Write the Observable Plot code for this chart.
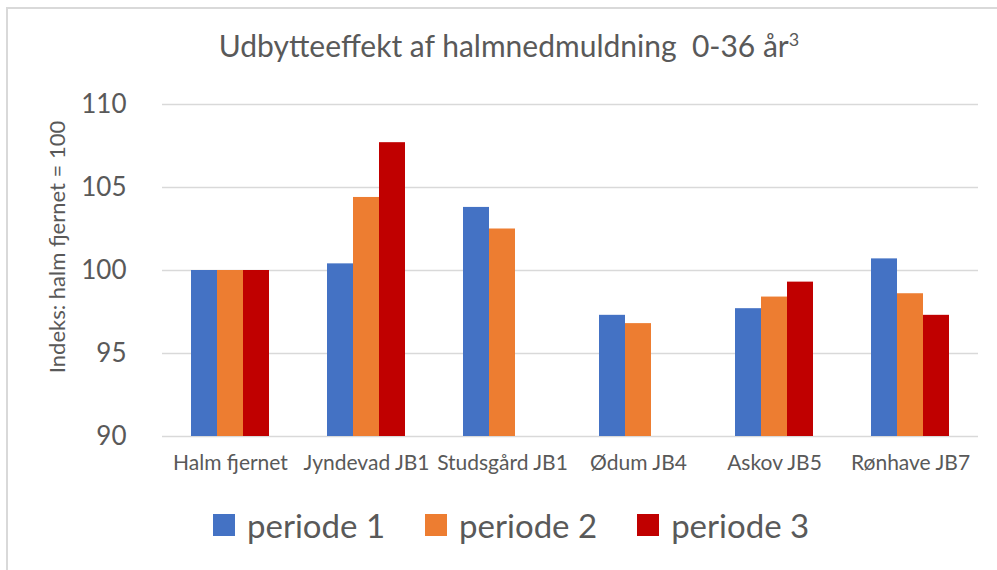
<!DOCTYPE html>
<html>
<head>
<meta charset="utf-8">
<script src="https://cdn.jsdelivr.net/npm/d3@7"></script>
<script src="https://cdn.jsdelivr.net/npm/@observablehq/plot@0.6"></script>
<style>
  html, body { margin: 0; padding: 0; background: #fff; }
  #wrap { position: relative; width: 997px; height: 570px; overflow: hidden; font-family: Lato, sans-serif; color: #595959; }
  #frame { position: absolute; left: 6px; top: 7px; width: 1100px; height: 700px; border: 2px solid #D9D9D9; box-sizing: border-box; }
  #title { position: absolute; left: 0; top: 27px; width: 1018px; text-align: center; font-size: 30px; line-height: 36px; white-space: pre; }
  #title sup { font-size: 18px; vertical-align: 11px; line-height: 0; }
  #ylabel { position: absolute; left: 57px; top: 247px; transform: translate(-50%, -50%) rotate(-90deg); font-size: 22px; white-space: nowrap; line-height: 24px; }
  #chart { position: absolute; left: 0; top: 0; }
  #legend { position: absolute; left: 213px; top: 505px; display: flex; align-items: center; font-size: 33px; }
  .item { display: flex; align-items: center; margin-right: 40px; }
  .sw { width: 22px; height: 22px; margin-right: 12px; }
</style>
</head>
<body>
<div id="wrap">
  <div id="frame"></div>
  <div id="chart"></div>
  <div id="title"></div>
  <div id="ylabel"></div>
  <div id="legend"></div>
</div>
<script>
const categories = ["Halm fjernet", "Jyndevad JB1", "Studsgård JB1", "Ødum JB4", "Askov JB5", "Rønhave JB7"];
const periods = ["periode 1", "periode 2", "periode 3"];
const periode1 = [100, 100.4, 103.8, 97.3, 97.7, 100.7];
const periode2 = [100, 104.4, 102.5, 96.8, 98.4, 98.6];
const periode3 = [100, 107.7, null, null, 99.3, 97.3];
const yTicks = [90, 95, 100, 105, 110];
const colors = ["#4472C4", "#ED7D31", "#C00000"];
const titleText = "Udbytteeffekt af halmnedmuldning  0-36 år";
const titleSup = "3";
const yLabel = "Indeks: halm fjernet = 100";

const series = [periode1, periode2, periode3];
const data = [];
categories.forEach((c, i) => {
  periods.forEach((p, j) => {
    const v = series[j][i];
    if (v != null) data.push({cat: c, period: p, value: v});
  });
});

const chart = Plot.plot({
  width: 997,
  height: 500,
  marginLeft: 160,
  marginRight: 17,
  marginTop: 104,
  marginBottom: 64,
  style: {fontFamily: "Lato, sans-serif", color: "#595959", background: "transparent", overflow: "visible"},
  fx: {domain: categories, padding: 0, label: null},
  x: {domain: periods, paddingInner: 0, paddingOuter: 1.1, axis: null},
  y: {domain: [90, 110]},
  color: {domain: periods, range: colors},
  marks: [
    Plot.ruleY(yTicks, {stroke: "#D9D9D9", strokeWidth: 1.5}),
    Plot.barY(data, {fx: "cat", x: "period", y1: 90, y2: "value", fill: "period"}),
    Plot.axisY({ticks: yTicks, tickSize: 0, tickPadding: 36, fontSize: 26, label: null, fill: "#595959"}),
    Plot.axisFx({anchor: "bottom", tickSize: 0, tickPadding: 19, fontSize: 21, label: null, fill: "#595959"})
  ]
});
document.getElementById("chart").appendChild(chart);

const title = document.getElementById("title");
title.textContent = titleText;
const sup = document.createElement("sup");
sup.textContent = titleSup;
title.appendChild(sup);

document.getElementById("ylabel").textContent = yLabel;

const legend = document.getElementById("legend");
periods.forEach((p, j) => {
  const item = document.createElement("div");
  item.className = "item";
  const sw = document.createElement("div");
  sw.className = "sw";
  sw.style.background = colors[j];
  const t = document.createElement("span");
  t.textContent = p;
  item.appendChild(sw);
  item.appendChild(t);
  legend.appendChild(item);
});
</script>
</body>
</html>
